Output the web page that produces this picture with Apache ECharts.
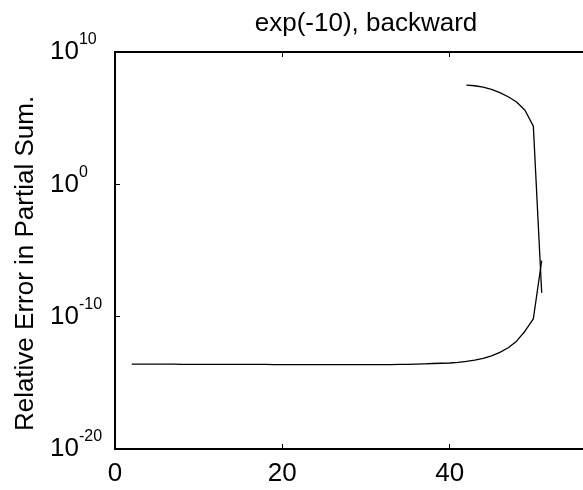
<!DOCTYPE html>
<html>
<head>
<meta charset="utf-8">
<script src="https://cdn.jsdelivr.net/npm/echarts@6/dist/echarts.min.js"></script>
<style>
  html, body { margin: 0; padding: 0; background: #fff; }
  #main { width: 583px; height: 490px; }
</style>
</head>
<body>
<div id="main"></div>
<script>
// number of terms, lower curve (x = 2..51)
var nLow = [];
for (var i = 2; i <= 51; i++) nLow.push(i);
// log10 of relative error
var expLow = [
  -13.58, -13.58, -13.59, -13.59, -13.59, -13.59, -13.60, -13.60, -13.60, -13.60,
  -13.60, -13.61, -13.61, -13.61, -13.61, -13.61, -13.61, -13.62, -13.62, -13.62,
  -13.62, -13.63, -13.63, -13.63, -13.63, -13.63, -13.63, -13.63, -13.63, -13.63,
  -13.63, -13.62, -13.61, -13.60, -13.58, -13.56, -13.54, -13.52, -13.50, -13.45,
  -13.38, -13.28, -13.15, -12.97, -12.70, -12.35, -11.85, -11.10, -10.17, -5.76
];
// upper curve (x = 42..51)
var nHigh = [42, 43, 44, 45, 46, 47, 48, 49, 50, 51];
var expHigh = [7.49, 7.45, 7.35, 7.18, 6.93, 6.62, 6.22, 5.60, 4.40, -8.20];

function pairs(xs, es) {
  var out = [];
  for (var i = 0; i < es.length; i++) out.push([xs[i], Math.pow(10, es[i])]);
  return out;
}

var font = '"Liberation Sans", Arial, Helvetica, sans-serif';
var chart = echarts.init(document.getElementById('main'));

var option = {
  animation: false,
  backgroundColor: '#fff',
  title: {
    text: 'exp(-10), backward',
    left: 361,
    textAlign: 'center',
    top: 6,
    textStyle: { fontFamily: font, fontSize: 26, fontWeight: 'normal', color: '#000' }
  },
  // plot box runs past the right edge of the picture (x max 60 is cut off)
  grid: { left: 115, top: 52, width: 502, height: 397, containLabel: false, outerBoundsMode: 'none' },
  xAxis: [{
    type: 'value', min: 0, max: 60, interval: 20,
    axisLine: { lineStyle: { color: '#000', width: 2 } },
    axisTick: { inside: true, length: 5, lineStyle: { color: '#000', width: 1 } },
    axisLabel: { color: '#000', fontFamily: font, fontSize: 26, margin: 12 },
    splitLine: { show: false }
  }, {
    type: 'value', min: 0, max: 60, interval: 20, position: 'top',
    axisLine: { lineStyle: { color: '#000', width: 2 } },
    axisTick: { inside: true, length: 5, lineStyle: { color: '#000', width: 1 } },
    axisLabel: { show: false },
    splitLine: { show: false }
  }],
  yAxis: [{
    type: 'log', logBase: 10, min: 1e-20, max: 1e10, interval: 10,
    name: 'Relative Error in Partial Sum.',
    nameLocation: 'middle', nameGap: 69, nameRotate: 90,
    nameTextStyle: { fontFamily: font, fontSize: 26, color: '#000', padding: [0, 26, 0, 0] },
    axisLine: { lineStyle: { color: '#000', width: 2 } },
    axisTick: { inside: true, length: 5, lineStyle: { color: '#000', width: 1 } },
    axisLabel: {
      margin: 65,
      align: 'left',
      formatter: function (v) {
        var e = Math.round(Math.log10(v));
        return '{b|10}{s|' + e + '}';
      },
      rich: {
        b: { fontFamily: font, fontSize: 26, color: '#000', lineHeight: 40 },
        s: { fontFamily: font, fontSize: 16, color: '#000', verticalAlign: 'top', lineHeight: 16 }
      }
    },
    splitLine: { show: false }
  }, {
    type: 'log', logBase: 10, min: 1e-20, max: 1e10, interval: 10, position: 'right',
    axisLine: { lineStyle: { color: '#000', width: 2 } },
    axisTick: { show: false },
    axisLabel: { show: false },
    splitLine: { show: false }
  }],
  series: [{
    type: 'line',
    data: pairs(nLow, expLow),
    showSymbol: false,
    lineStyle: { color: '#000', width: 1.3 },
    z: 3
  }, {
    type: 'line',
    data: pairs(nHigh, expHigh),
    showSymbol: false,
    lineStyle: { color: '#000', width: 1.3 },
    z: 3
  }]
};
chart.setOption(option);
</script>
</body>
</html>
